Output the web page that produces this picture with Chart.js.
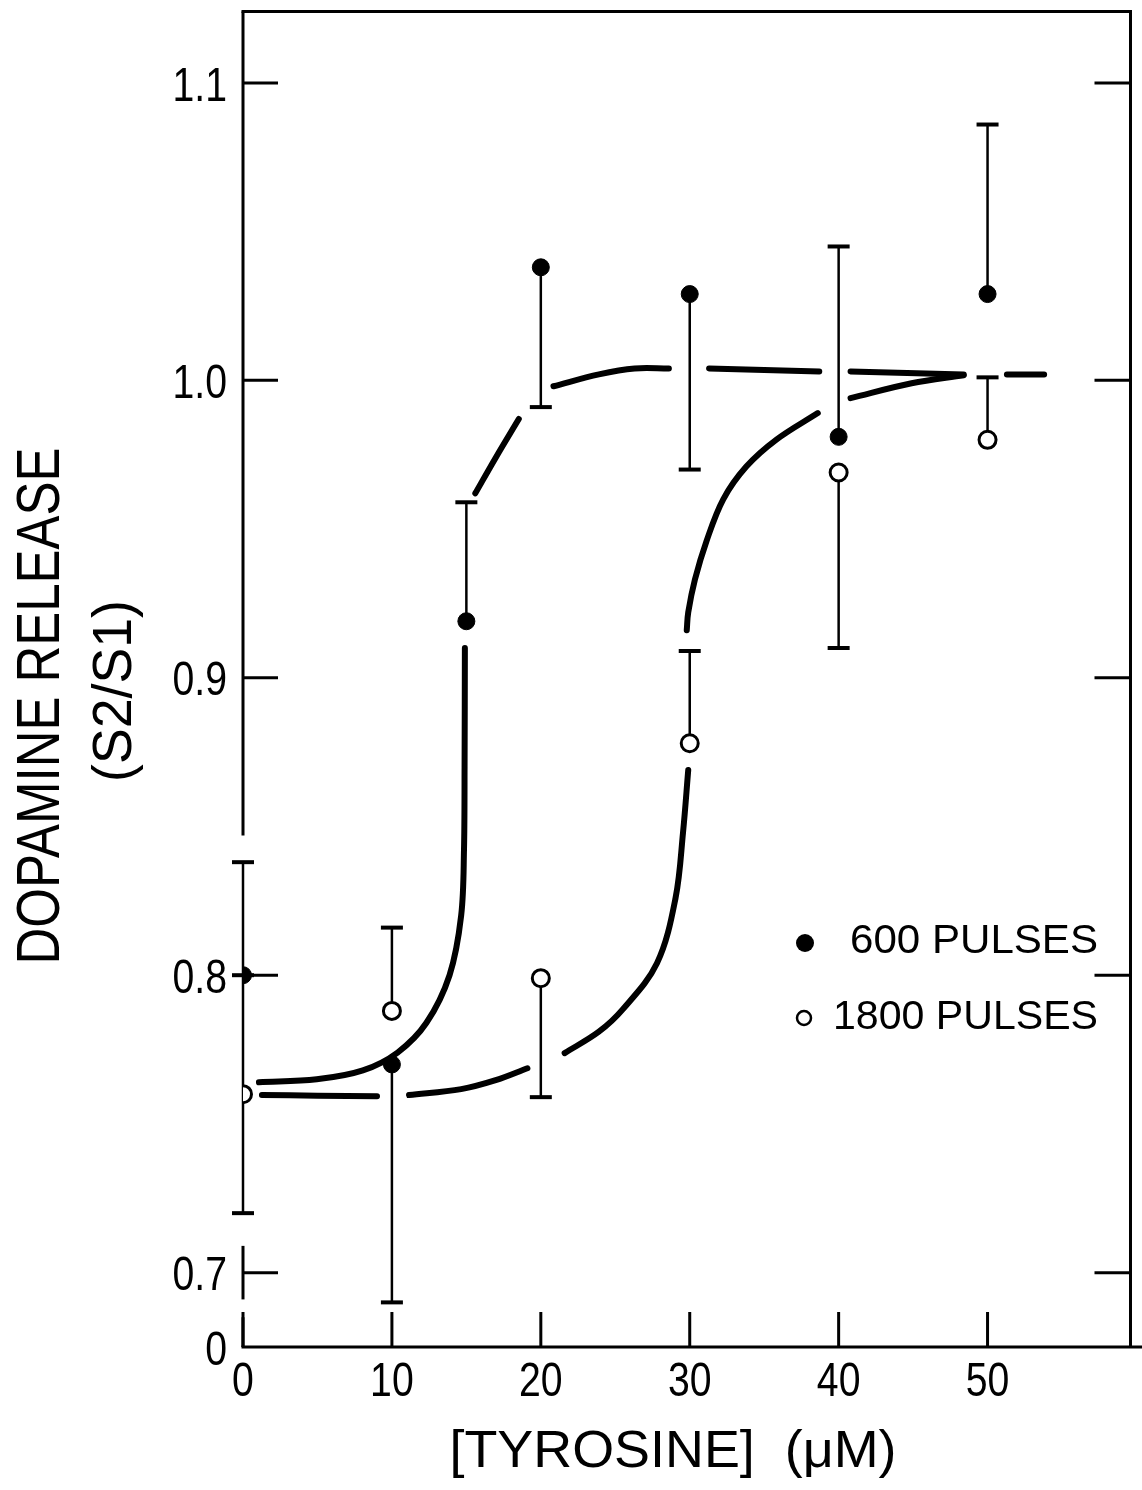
<!DOCTYPE html>
<html lang="en">
<head>
<meta charset="UTF-8">
<title>Dopamine release vs tyrosine</title>
<script src="https://cdn.jsdelivr.net/npm/chart.js"></script>
<style>
  html, body { margin: 0; padding: 0; background: #fff; }
  canvas { display: block; }
</style>
</head>
<body>
<canvas id="chart" width="1142" height="1490"></canvas>
<script>
const x600 = [0, 10, 15, 20, 30, 40, 50];
const y600 = [0.800, 0.770, 0.919, 1.038, 1.029, 0.981, 1.029];
const lo600 = [0.800, 0.690, 0.919, 0.991, 0.970, 0.981, 1.029];
const hi600 = [0.838, 0.770, 0.959, 1.038, 1.029, 1.045, 1.086];

const x1800 = [0, 10, 20, 30, 40, 50];
const y1800 = [0.760, 0.788, 0.799, 0.878, 0.969, 0.980];
const lo1800 = [0.720, 0.788, 0.759, 0.878, 0.910, 0.980];
const hi1800 = [0.800, 0.816, 0.799, 0.909, 0.969, 1.001];

// hand-drawn curves, null = break in the line
const curve600X = [1.07, 4.95, 8.05, 10.38, 12.32, 13.87, 14.65, 14.84, 14.88, 14.9, null,
  15.6, 16.97, 18.52, null,
  20.85, 23.9, 26.3, 28.6, null,
  31.3, 35.0, 38.7, null,
  40.8, 44.6, 48.4, null,
  51.3, 53.8];
const curve600Y = [0.764, 0.765, 0.768, 0.774, 0.784, 0.800, 0.820, 0.842, 0.870, 0.910, null,
  0.962, 0.974, 0.987, null,
  0.998, 1.002, 1.004, 1.004, null,
  1.004, 1.0035, 1.003, null,
  1.003, 1.0025, 1.002, null,
  1.002, 1.002];

const curve1800X = [1.27, 5.0, 9.0, null,
  11.15, 14.65, 16.97, 19.1, null,
  21.6, 23.9, 25.5, 27.8, 29.05, 29.55, 29.9, null,
  29.8, 29.9, 30.35, 31.13, 32.25, 33.8, 35.8, 38.6, null,
  40.8, 44.9, 48.4];
const curve1800Y = [0.7597, 0.7595, 0.7593, null,
  0.7597, 0.7617, 0.7647, 0.7687, null,
  0.7738, 0.781, 0.7885, 0.804, 0.826, 0.848, 0.869, null,
  0.916, 0.922, 0.933, 0.946, 0.960, 0.971, 0.980, 0.989, null,
  0.994, 0.999, 1.0017];

const xTicks = [0, 10, 20, 30, 40, 50];
const xTickLabels = ['0', '10', '20', '30', '40', '50'];
const yMin = 0.675, yMax = 1.124, xMax = 59.6;
const yTicks = [yMin, 0.7, 0.8, 0.9, 1.0, 1.1];
const yTickLabels = ['0', '0.7', '0.8', '0.9', '1.0', '1.1'];
// left axis is drawn broken, these are the visible pieces
const leftAxisPieces = [[yMax, 0.847], [0.709, 0.691], [0.685, yMin]];

const FONT = '"Liberation Sans", Arial, sans-serif';

function pts(xs, ys) {
  return xs.map((v, i) => ({ x: v, y: ys[i] }));
}

function drawText(ctx, text, cx, cy, size, opts) {
  opts = opts || {};
  ctx.save();
  ctx.font = size + 'px ' + FONT;
  const w = ctx.measureText(text).width;
  const sx = opts.width ? opts.width / w : (opts.scaleX || 1);
  ctx.translate(cx, cy);
  if (opts.angle) ctx.rotate(opts.angle);
  ctx.scale(sx, 1);
  ctx.textAlign = opts.align || 'center';
  ctx.textBaseline = 'alphabetic';
  ctx.fillStyle = '#000';
  ctx.fillText(text, 0, size * 0.36);
  ctx.restore();
}

const paper = {
  id: 'paper',
  beforeDatasetsDraw(chart) {
    const { ctx, chartArea: a } = chart;
    const x = chart.scales.x, y = chart.scales.y;
    const line = (x1, y1, x2, y2, w) => {
      ctx.lineWidth = w || 3;
      ctx.beginPath(); ctx.moveTo(x1, y1); ctx.lineTo(x2, y2); ctx.stroke();
    };
    ctx.save();
    ctx.strokeStyle = '#000';
    ctx.lineCap = 'butt';

    // frame
    line(a.left - 1.5, a.top, a.right + 1.5, a.top);
    line(a.right, a.top, a.right, a.bottom);
    line(a.left - 1.5, a.bottom, chart.width, a.bottom);
    leftAxisPieces.forEach(p => line(a.left, y.getPixelForValue(p[0]), a.left, y.getPixelForValue(p[1])));

    // ticks, pointing inward
    yTicks.slice(1).forEach(v => {
      const py = y.getPixelForValue(v);
      line(a.left, py, a.left + 35, py);
      line(a.right - 36, py, a.right, py);
    });
    xTicks.forEach(v => {
      const px = x.getPixelForValue(v);
      line(px, a.bottom, px, a.bottom - 35);
    });

    // error bars
    const bars = (xs, ys, lo, hi) => {
      xs.forEach((v, i) => {
        const px = x.getPixelForValue(v);
        const pl = y.getPixelForValue(lo[i]), ph = y.getPixelForValue(hi[i]);
        line(px, pl, px, ph, 2.5);
        if (lo[i] !== ys[i]) line(px - 11, pl, px + 11, pl, 4);
        if (hi[i] !== ys[i]) line(px - 11, ph, px + 11, ph, 4);
      });
    };
    bars(x600, y600, lo600, hi600);
    bars(x1800, y1800, lo1800, hi1800);
    ctx.restore();
  },
  afterDraw(chart) {
    const { ctx, chartArea: a } = chart;
    const x = chart.scales.x, y = chart.scales.y;

    yTicks.forEach((v, i) => {
      drawText(ctx, yTickLabels[i], a.left - 16, y.getPixelForValue(v), 49, { align: 'right', scaleX: 0.8 });
    });
    xTicks.forEach((v, i) => {
      drawText(ctx, xTickLabels[i], x.getPixelForValue(v), a.bottom + 31, 49, { scaleX: 0.8 });
    });

    // axis titles
    drawText(ctx, 'DOPAMINE RELEASE', 37, 706, 62, { width: 517, angle: -Math.PI / 2 });
    drawText(ctx, '(S2/S1)', 111, 691, 55, { width: 182, angle: -Math.PI / 2 });
    drawText(ctx, '[TYROSINE]  (\u03BCM)', 673, 1448, 52, { width: 447 });

    // legend
    ctx.save();
    ctx.fillStyle = '#000';
    ctx.beginPath(); ctx.arc(805, 943, 9, 0, Math.PI * 2); ctx.fill();
    ctx.lineWidth = 2.5; ctx.strokeStyle = '#000';
    ctx.beginPath(); ctx.arc(804, 1018, 7, 0, Math.PI * 2); ctx.stroke();
    ctx.restore();
    drawText(ctx, '600 PULSES', 850, 939, 40, { align: 'left', width: 248 });
    drawText(ctx, '1800 PULSES', 833, 1015, 40, { align: 'left', width: 265 });
  }
};

new Chart(document.getElementById('chart').getContext('2d'), {
  type: 'scatter',
  data: {
    datasets: [
      { label: '600 PULSES', data: pts(x600, y600), pointRadius: 8.5, pointBorderWidth: 1,
        backgroundColor: '#000', borderColor: '#000', order: 0 },
      { label: '1800 PULSES', data: pts(x1800, y1800), pointRadius: 8.5, pointBorderWidth: 3,
        backgroundColor: '#fff', borderColor: '#000', order: 1 },
      { type: 'line', label: 'fit 600', data: pts(curve600X, curve600Y), borderColor: '#000',
        borderWidth: 6, pointRadius: 0, tension: 0.35, borderCapStyle: 'round', fill: false, order: 2 },
      { type: 'line', label: 'fit 1800', data: pts(curve1800X, curve1800Y), borderColor: '#000',
        borderWidth: 6, pointRadius: 0, tension: 0.35, borderCapStyle: 'round', fill: false, order: 3 }
    ]
  },
  options: {
    responsive: false,
    animation: false,
    devicePixelRatio: 1,
    layout: { padding: { left: 243, right: 5, top: 11, bottom: 143 } },
    plugins: { legend: { display: false }, tooltip: { enabled: false } },
    scales: {
      x: { type: 'linear', min: 0, max: xMax, display: false },
      y: { type: 'linear', min: yMin, max: yMax, display: false }
    }
  },
  plugins: [paper]
});
</script>
</body>
</html>
